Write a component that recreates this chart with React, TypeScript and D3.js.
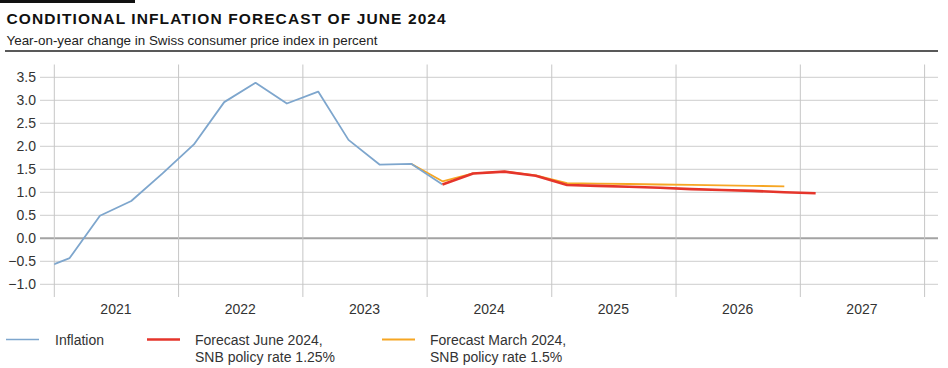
import * as d3 from "d3";

const title = "CONDITIONAL INFLATION FORECAST OF JUNE 2024";
const subtitle = "Year-on-year change in Swiss consumer price index in percent";

// quarterly observations, plotted at mid-quarter
const inflationQuarters = [
  "2020-Q4", "2021-Q1", "2021-Q2", "2021-Q3", "2021-Q4",
  "2022-Q1", "2022-Q2", "2022-Q3", "2022-Q4",
  "2023-Q1", "2023-Q2", "2023-Q3", "2023-Q4", "2024-Q1"
];
const inflationValues = [-0.7, -0.43, 0.49, 0.81, 1.41, 2.04, 2.96, 3.38, 2.93, 3.19, 2.14, 1.6, 1.62, 1.17];

const juneQuarters = [
  "2024-Q1", "2024-Q2", "2024-Q3", "2024-Q4",
  "2025-Q1", "2025-Q2", "2025-Q3", "2025-Q4",
  "2026-Q1", "2026-Q2", "2026-Q3", "2026-Q4", "2027-Q1"
];
const juneValues = [1.17, 1.41, 1.45, 1.36, 1.16, 1.14, 1.12, 1.1, 1.07, 1.05, 1.03, 1.0, 0.98];

const marchQuarters = [
  "2023-Q4", "2024-Q1", "2024-Q2", "2024-Q3", "2024-Q4",
  "2025-Q1", "2025-Q2", "2025-Q3", "2025-Q4",
  "2026-Q1", "2026-Q2", "2026-Q3", "2026-Q4"
];
const marchValues = [1.62, 1.24, 1.41, 1.45, 1.37, 1.2, 1.19, 1.18, 1.17, 1.16, 1.15, 1.14, 1.13];

const years = [2021, 2022, 2023, 2024, 2025, 2026, 2027];
const yTicks = [-1.0, -0.5, 0, 0.5, 1.0, 1.5, 2.0, 2.5, 3.0, 3.5];

const colors = { inflation: "#7ea6cd", june: "#e5352b", march: "#f6a623" };

const W = 948;
const H = 368;
const font = "'Liberation Sans', Arial, sans-serif";

const midQuarter = (q: string) => {
  const [y, qq] = q.split("-Q").map(Number);
  return new Date(y, (qq - 1) * 3 + 1, 15);
};

export default function App() {
  const x = d3.scaleTime()
    .domain([new Date(2021, 0, 1), new Date(2028, 0, 1)])
    .range([54.3, 924.6]);
  const y = d3.scaleLinear().domain([-1, 3.5]).range([284.3, 77.3]);

  const gridLeft = 40;
  const gridRight = 938;
  const gridTop = 64.5;
  const gridBottom = 297;

  const line = d3.line<[Date, number]>()
    .x((d) => x(d[0]))
    .y((d) => y(d[1]));

  const series = (qs: string[], vs: number[]) =>
    qs.map((q, i) => [midQuarter(q), vs[i]] as [Date, number]);

  const fmt = (v: number) => (v < 0 ? "\u2212" : "") + Math.abs(v).toFixed(1);

  const legend = [
    { color: colors.inflation, width: 1.5, lines: ["Inflation"], x: 6, tx: 55 },
    { color: colors.june, width: 2.5, lines: ["Forecast June 2024,", "SNB policy rate 1.25%"], x: 147, tx: 195 },
    { color: colors.march, width: 1.8, lines: ["Forecast March 2024,", "SNB policy rate 1.5%"], x: 382, tx: 430 }
  ];

  const clipLeft = x(new Date(2021, 0, 1));

  return (
    <svg
      width={W}
      height={H}
      style={{ position: "absolute", left: 0, top: 0, background: "#fff" }}
      fontFamily={font}
    >
      <defs>
        <clipPath id="plot-clip">
          <rect x={clipLeft} y={gridTop} width={gridRight - clipLeft} height={gridBottom - gridTop} />
        </clipPath>
      </defs>
      <rect x={0} y={0} width={135} height={3} fill="#111" />
      <text x={6.5} y={24} fontSize={15.5} fontWeight="bold" fill="#111" letterSpacing={1.1}>
        {title}
      </text>
      <text x={6.5} y={45} fontSize={13.4} fill="#222">
        {subtitle}
      </text>
      <line x1={5} x2={gridRight} y1={51} y2={51} stroke="#222" strokeWidth={1.5} />

      {/* horizontal grid */}
      {yTicks.map((t) => (
        <g key={t}>
          <line
            x1={gridLeft}
            x2={gridRight}
            y1={y(t)}
            y2={y(t)}
            stroke={t === 0 ? "#a3a3a3" : "#cdcdcd"}
            strokeWidth={t === 0 ? 2 : 1}
          />
          <text x={36} y={y(t)} dy="0.35em" textAnchor="end" fontSize={14} fill="#333">
            {fmt(t)}
          </text>
        </g>
      ))}

      {/* vertical year separators */}
      {[...years, 2028].map((yr) => (
        <line
          key={yr}
          x1={x(new Date(yr, 0, 1))}
          x2={x(new Date(yr, 0, 1))}
          y1={gridTop}
          y2={gridBottom}
          stroke="#c6c6c6"
          strokeWidth={1}
        />
      ))}
      {years.map((yr) => (
        <text
          key={yr}
          x={x(new Date(yr, 6, 1))}
          y={314}
          textAnchor="middle"
          fontSize={14}
          fill="#333"
        >
          {yr}
        </text>
      ))}

      <g clipPath="url(#plot-clip)" fill="none" strokeLinejoin="round">
        <path d={line(series(marchQuarters, marchValues)) ?? ""} stroke={colors.march} strokeWidth={1.8} />
        <path d={line(series(inflationQuarters, inflationValues)) ?? ""} stroke={colors.inflation} strokeWidth={1.8} />
        <path d={line(series(juneQuarters, juneValues)) ?? ""} stroke={colors.june} strokeWidth={2.6} />
      </g>

      {legend.map((l) => (
        <g key={l.tx}>
          <line x1={l.x} x2={l.x + 33} y1={339.5} y2={339.5} stroke={l.color} strokeWidth={l.width} />
          {l.lines.map((s, i) => (
            <text key={s} x={l.tx} y={345 + i * 16.5} fontSize={14} fill="#333">
              {s}
            </text>
          ))}
        </g>
      ))}
    </svg>
  );
}
